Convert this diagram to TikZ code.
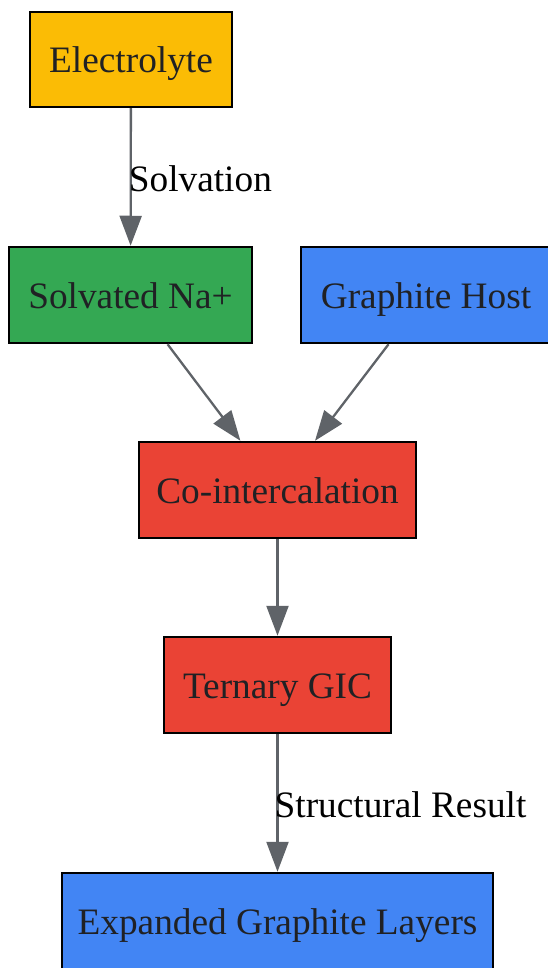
\documentclass[tikz,border=0pt]{standalone}
\usepackage{fontspec}
\setmainfont{Liberation Serif}
\usetikzlibrary{arrows.meta}
\definecolor{cyellow}{HTML}{FBBC05}
\definecolor{cgreen}{HTML}{34A853}
\definecolor{cblue}{HTML}{4285F4}
\definecolor{cred}{HTML}{EA4335}
\definecolor{cedge}{HTML}{5F6368}
\definecolor{ctext}{HTML}{202124}
\begin{document}
\begin{tikzpicture}[x=1pt,y=-1pt,
  box/.style={draw=black, line width=2.5pt, rectangle, minimum height=96pt, inner sep=0pt, text height=30pt, text depth=3pt, text=ctext, font=\fontsize{37.3}{44}\selectfont},
  conn/.style={draw=cedge, line width=2.3pt, -{Triangle[length=30pt,width=22pt]}},
  elabel/.style={font=\fontsize{37.3}{44}\selectfont, text=black, inner sep=0pt}]
\useasboundingbox (0,0) rectangle (547,968);
\node[box, fill=cyellow, minimum width=202pt, minimum height=95pt] (el) at (131,59.5) {Electrolyte};
\node[box, fill=cgreen, minimum width=243pt] (sol) at (130.5,295) {Solvated Na+};
\node[box, fill=cblue, minimum width=250pt] (gh) at (426,295) {Graphite Host};
\node[box, fill=cred, minimum width=277pt] (co) at (277.5,490) {Co-intercalation};
\node[box, fill=cred, minimum width=227pt] (tg) at (277.5,685) {Ternary GIC};
\node[box, fill=cblue, minimum width=431pt] (ex) at (277.5,921) {Expanded Graphite Layers};
\draw[conn] (el) -- (sol) node[midway, elabel, anchor=west, xshift=-3pt, yshift=-2pt] (l1) {Solvation};
\draw[conn] (sol) -- (co);
\draw[conn] (gh) -- (co);
\draw[conn] (co) -- (tg);
\draw[conn] (tg) -- (ex) node[midway, elabel, anchor=west, xshift=-4pt, yshift=-2pt] (l2) {Structural Result};
\end{tikzpicture}
\end{document}
